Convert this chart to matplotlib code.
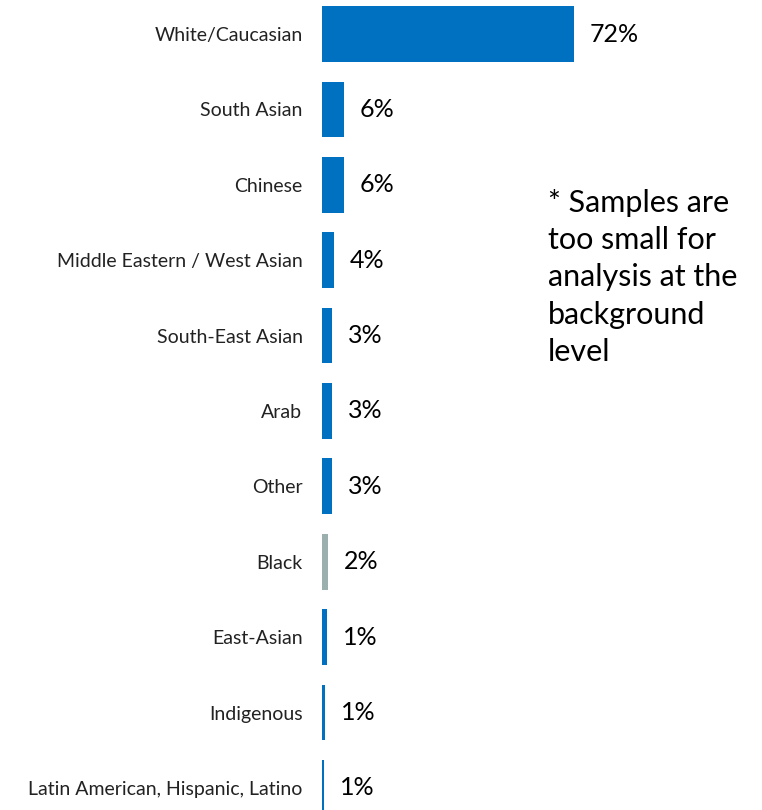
import matplotlib
matplotlib.use("Agg")
import matplotlib.pyplot as plt

plt.rcParams["font.family"] = ["Lato", "DejaVu Sans"]

categories = ["White/Caucasian", "South Asian", "Chinese",
              "Middle Eastern / West Asian", "South-East Asian", "Arab",
              "Other", "Black", "East-Asian", "Indigenous",
              "Latin American, Hispanic, Latino"]
values = [72, 6.3, 6.3, 3.5, 2.9, 2.9, 2.8, 1.7, 1.4, 0.8, 0.7]
labels = ["72%", "6%", "6%", "4%", "3%", "3%", "3%", "2%", "1%", "1%", "1%"]
colors = ["#0070C0"] * 7 + ["#9BAFAF"] + ["#0070C0"] * 3

fig = plt.figure(figsize=(7.62, 8.1), dpi=100)
ax = fig.add_axes([322 / 762, 0, 350 / 762, 1])

y = list(range(len(categories)))
ax.barh(y, values, height=0.74, color=colors)

for yi, v, lab in zip(y, values, labels):
    ax.annotate(lab, (v, yi), xytext=(11.5, 0), textcoords="offset points",
                va="center", ha="left", fontsize=18, color="black")

ax.set_yticks(y)
ax.set_yticklabels(categories, fontsize=14, color="#222222")
ax.tick_params(axis="y", length=0, pad=14)
ax.set_xticks([])
ax.set_xlim(0, 100)
ax.set_ylim(10.292, -0.451)
for s in ax.spines.values():
    s.set_visible(False)

fig.text(548 / 762, 1 - 189 / 810,
         "* Samples are\ntoo small for\nanalysis at the\nbackground\nlevel",
         fontsize=22, va="top", ha="left", linespacing=1.4)

fig.savefig("out.png", dpi=100)
